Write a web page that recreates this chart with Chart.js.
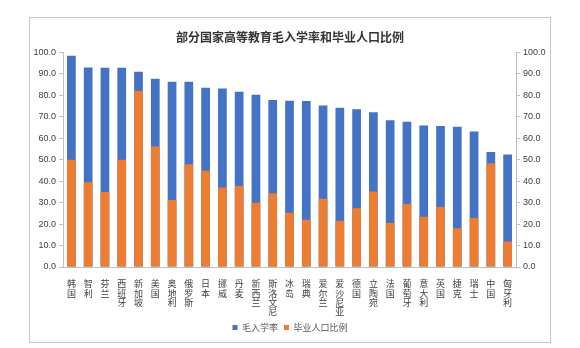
<!DOCTYPE html>
<html lang="zh">
<head>
<meta charset="UTF-8">
<title>部分国家高等教育毛入学率和毕业人口比例</title>
<style>
  html, body { margin: 0; padding: 0; background: #fff; }
  #frame {
    position: absolute; left: 29px; top: 17px;
    width: 520px; height: 324px;
    border: 1px solid #c8c8c8;
  }
</style>
</head>
<body>
<div id="frame"><canvas id="myChart" width="520" height="324"></canvas></div>

<script src="https://cdn.jsdelivr.net/npm/chart.js"></script>
<script>
// data
const countries = ['韩国', '智利', '芬兰', '西班牙', '新加坡', '美国', '奥地利', '俄罗斯', '日本',
  '挪威', '丹麦', '新西兰', '斯洛文尼亚', '冰岛', '瑞典', '爱尔兰', '爱沙尼亚', '德国', '立陶宛',
  '法国', '葡萄牙', '意大利', '英国', '捷克', '瑞士', '中国', '匈牙利'];
const enrolRate = [98.4, 93.0, 92.9, 92.8, 91.0, 87.7, 86.3, 86.3, 83.5,
  83.2, 81.7, 80.3, 77.8, 77.5, 77.3, 75.2, 74.2, 73.5, 72.1,
  68.4, 67.7, 65.9, 65.7, 65.3, 63.1, 53.6, 52.4];
const gradShare = [50.0, 39.5, 34.9, 50.0, 82.0, 56.1, 31.2, 47.9, 44.8,
  37.1, 37.8, 29.9, 34.4, 25.3, 22.0, 31.8, 21.5, 27.4, 35.2,
  20.5, 29.3, 23.4, 28.0, 18.0, 22.8, 48.4, 11.9];
const yTicks = [0, 10, 20, 30, 40, 50, 60, 70, 80, 90, 100];

const BLUE = '#4472C4';
const ORANGE = '#ED7D31';
const AXIS = '#bfbfbf';
const cjk = '"Noto Sans CJK SC", "Noto Sans", sans-serif';

// vertical labels: one character per line
const verticalLabels = countries.map(c => c.split(''));

function yAxis(pos, width) {
  return {
    type: 'linear',
    position: pos,
    min: 0,
    max: 100,
    afterBuildTicks: s => { s.ticks = yTicks.map(v => ({ value: v })); },
    afterFit: s => { s.width = width; },
    grid: { drawOnChartArea: false, color: AXIS, tickLength: 4, tickColor: AXIS },
    border: { color: AXIS },
    ticks: {
      padding: 3,
      color: '#404040',
      font: { family: '"Liberation Sans", Arial, sans-serif', size: 9 },
      callback: v => v.toFixed(1)
    }
  };
}

const ctx = document.getElementById('myChart');
new Chart(ctx, {
  type: 'bar',
  data: {
    labels: verticalLabels,
    datasets: [{
      label: '毛入学率',
      data: enrolRate,
      backgroundColor: BLUE,
      order: 1,
      yAxisID: 'y'
    }, {
      label: '毕业人口比例',
      data: gradShare,
      backgroundColor: ORANGE,
      order: 0,
      yAxisID: 'y'
    }]
  },
  options: {
    responsive: false,
    animation: false,
    layout: { padding: { left: 0, right: 0, top: 0, bottom: 0 } },
    datasets: {
      bar: { grouped: false, categoryPercentage: 1, barPercentage: 0.52 }
    },
    scales: {
      x: {
        grid: { display: false },
        border: { color: AXIS },
        afterFit: s => { s.height = 50; },
        ticks: {
          autoSkip: false,
          maxRotation: 0,
          minRotation: 0,
          padding: 4,
          color: '#404040',
          font: { family: cjk, size: 9, lineHeight: 1.05 }
        }
      },
      y: yAxis('left', 33),
      y2: yAxis('right', 34)
    },
    plugins: {
      title: {
        display: true,
        text: '部分国家高等教育毛入学率和毕业人口比例',
        color: '#333',
        font: { family: cjk, size: 12, weight: 'bold' },
        padding: { top: 12, bottom: 8 }
      },
      legend: {
        position: 'bottom',
        labels: {
          sort: (a, b) => a.datasetIndex - b.datasetIndex,
          boxWidth: 5,
          boxHeight: 5,
          padding: 6,
          color: '#595959',
          font: { family: cjk, size: 9 }
        }
      },
      tooltip: { enabled: false }
    }
  }
});
</script>
</body>
</html>
